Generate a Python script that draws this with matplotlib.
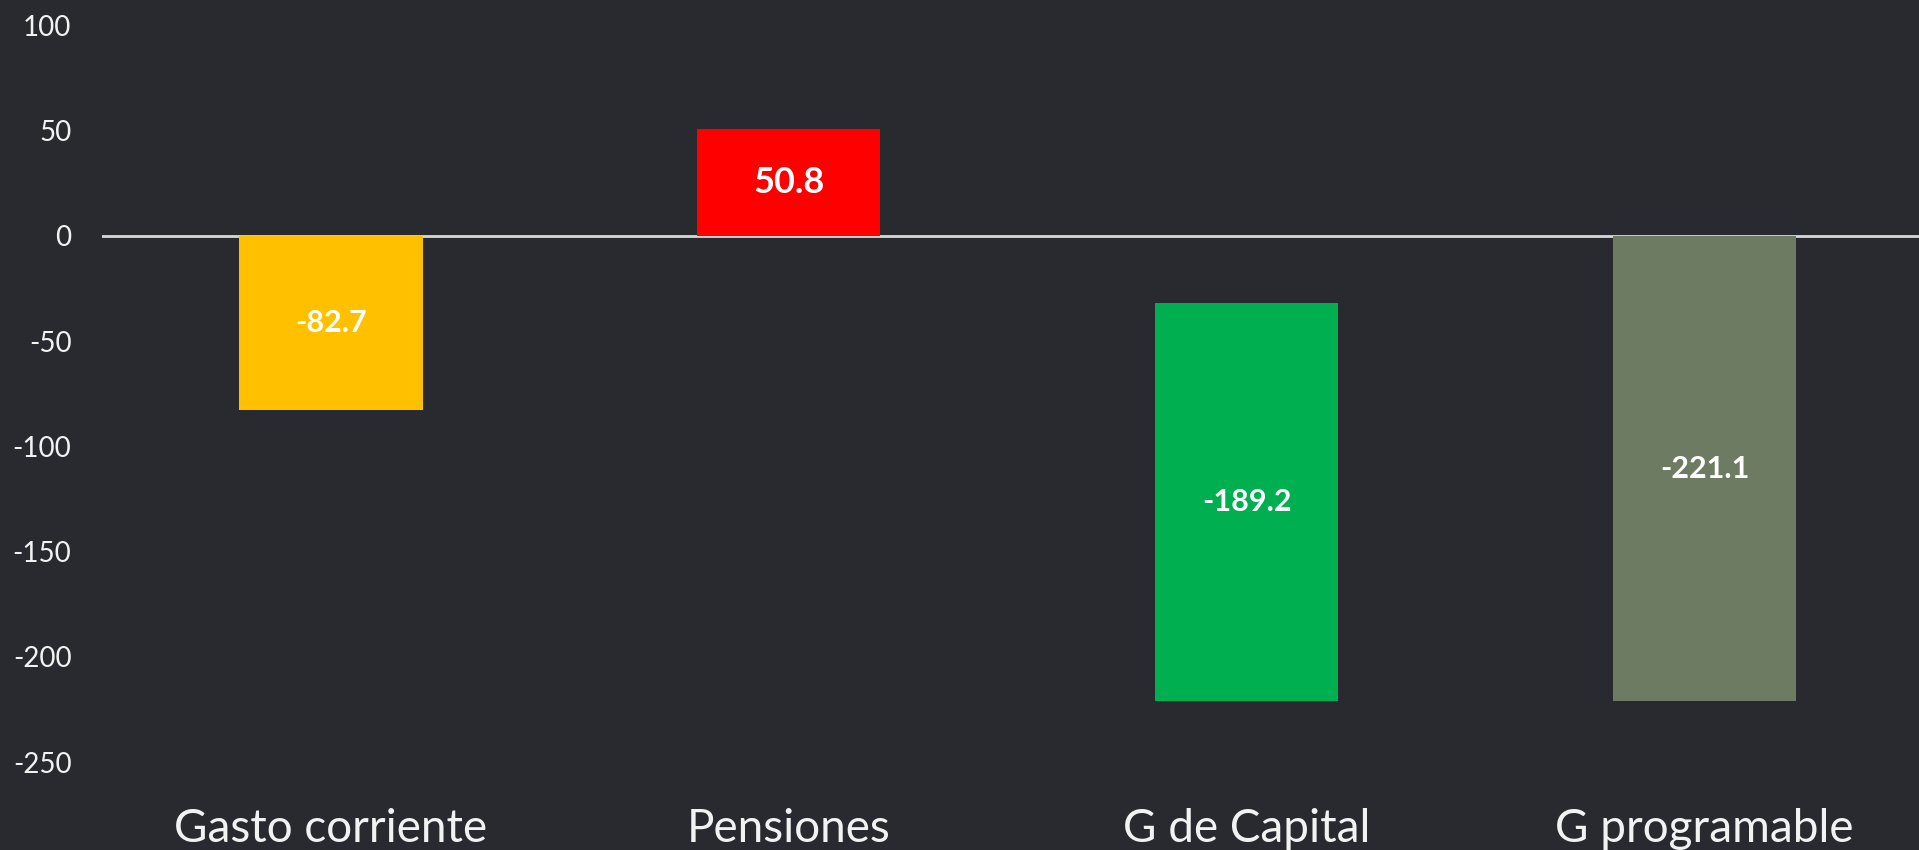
import matplotlib
matplotlib.use("Agg")
import matplotlib.pyplot as plt

# Variación del gasto por componente (miles de millones)
categories = ["Gasto corriente", "Pensiones", "G de Capital", "G programable"]
values = [-82.7, 50.8, -189.2, -221.1]
colors = ["#FFC000", "#FF0000", "#00B050", "#6D7B62"]
label_sizes = [22, 26, 22, 22]
yticks = [100, 50, 0, -50, -100, -150, -200, -250]

# Capital spending hangs from the running total of the first two components
bottoms = [0, 0, values[0] + values[1], 0]

BG = "#292A2F"
plt.rcParams["font.family"] = ["Lato", "DejaVu Sans"]

fig = plt.figure(figsize=(19.19, 8.50), dpi=100, facecolor=BG)
ax = fig.add_axes([102 / 1919, 60 / 850, 1 - 102 / 1919, 780 / 850])
ax.set_facecolor(BG)

x = list(range(len(categories)))
ax.bar(x, values, bottom=bottoms, width=0.4, color=colors, zorder=2)

for xi, v, b, fs in zip(x, values, bottoms, label_sizes):
    ax.text(xi, b + v / 2, f"{v:.1f}", ha="center", va="center",
            color="white", fontsize=fs, fontweight="bold", zorder=3)

ax.axhline(0, color="#D9D9D9", linewidth=2, zorder=1)

ax.set_xlim(-0.5, 3.468)
ax.set_ylim(-263.3, 107.4)
ax.set_yticks(yticks)
ax.set_yticklabels([str(t) for t in yticks], fontsize=20, color="#F2F2F2")
ax.set_xticks(x)
ax.set_xticklabels(categories, fontsize=33, color="#F2F2F2")
ax.tick_params(axis="both", length=0)
ax.tick_params(axis="y", pad=22)
ax.tick_params(axis="x", pad=13)
for s in ax.spines.values():
    s.set_visible(False)

fig.savefig("out.png", dpi=100, facecolor=BG)
